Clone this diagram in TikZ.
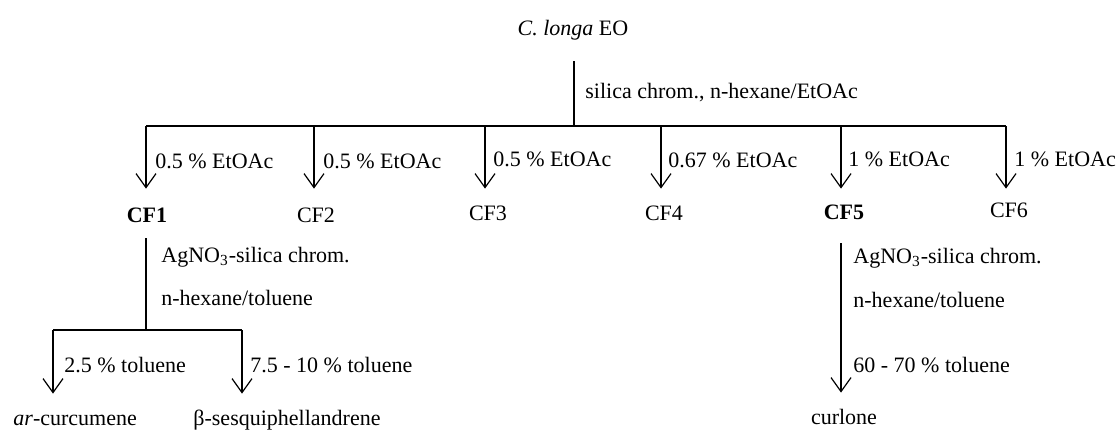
\documentclass[tikz,border=0pt]{standalone}
\usepackage{fontspec}
\setmainfont{Liberation Serif}
\usetikzlibrary{arrows.meta}

\begin{document}
\begin{tikzpicture}[x=0.5pt, y=-0.5pt,
    every node/.style={font=\fontsize{11}{13}\selectfont, inner sep=0pt, text height=8.5pt, text depth=2.5pt},
    frac/.style={anchor=base},
    lbl/.style={anchor=base west},
    line/.style={line width=0.6pt},
    arrow/.style={line width=0.6pt, -{Straight Barb[length=7pt,width=10pt]}, shorten >=7pt}
]
    \useasboundingbox (0,0) rectangle (1118,430);

    % Essential oil and first column
    \node[frac] (eo) at (573,35) {\textit{C. longa} EO};
    \coordinate (top) at (574,126);
    \draw[line, shorten <=10.5pt] (eo.south -| top) -- (top);
    \node[lbl] (col) at (585,98) {silica chrom., n-hexane/EtOAc};

    % Fractions
    \coordinate (bar1) at (146,126);
    \coordinate (bar2) at (314,126);
    \coordinate (bar3) at (485,126);
    \coordinate (bar4) at (661,126);
    \coordinate (bar5) at (841,126);
    \coordinate (bar6) at (1006,126);
    \draw[line] (bar1) -- (bar6);

    \node[frac] (cf1) at (147,222) {\textbf{CF1}};
    \node[frac] (cf2) at (316,222) {CF2};
    \node[frac] (cf3) at (488,220) {CF3};
    \node[frac] (cf4) at (664,220) {CF4};
    \node[frac] (cf5) at (844,219) {\textbf{CF5}};
    \node[frac] (cf6) at (1009,217) {CF6};

    \draw[arrow, shorten >=8pt] (bar1) -- (bar1 |- cf1.north);
    \draw[arrow, shorten >=8pt] (bar2) -- (bar2 |- cf2.north);
    \draw[arrow] (bar3) -- (bar3 |- cf3.north);
    \draw[arrow] (bar4) -- (bar4 |- cf4.north);
    \draw[arrow, shorten >=6.5pt] (bar5) -- (bar5 |- cf5.north);
    \draw[arrow, shorten >=5.5pt] (bar6) -- (bar6 |- cf6.north);

    \node[lbl] (e1) at (155,168) {0.5 \% EtOAc};
    \node[lbl] (e2) at (323,168) {0.5 \% EtOAc};
    \node[lbl] (e3) at (493,166) {0.5 \% EtOAc};
    \node[lbl] (e4) at (668,167) {0.67 \% EtOAc};
    \node[lbl] (e5) at (848,166) {1 \% EtOAc};
    \node[lbl] (e6) at (1014,166) {1 \% EtOAc};

    % CF1 separation
    \coordinate (sub1) at (146,330);
    \coordinate (sub1a) at (53,330);
    \coordinate (sub1b) at (242,330);
    \draw[line, shorten <=5.5pt] (cf1.south -| sub1) -- (sub1);
    \draw[line] (sub1a) -- (sub1b);
    \node[lbl] (ag1) at (161,262) {AgNO\textsubscript{3}-silica chrom.};
    \node[lbl] (hx1) at (161,305) {n-hexane/toluene};

    \node[lbl] (arc) at (13,425) {\textit{ar}-curcumene};
    \node[lbl] (bsq) at (193,425) {β-sesquiphellandrene};
    \draw[arrow] (sub1a) -- (sub1a |- arc.north);
    \draw[arrow] (sub1b) -- (sub1b |- bsq.north);
    \node[lbl] (t1) at (64,372) {2.5 \% toluene};
    \node[lbl] (t2) at (250,372) {7.5 - 10 \% toluene};

    % CF5 separation
    \node[frac] (curl) at (844,424) {curlone};
    \draw[arrow, shorten <=9.5pt] (cf5.south -| bar5) -- (bar5 |- curl.north);
    \node[lbl] (ag5) at (853,263) {AgNO\textsubscript{3}-silica chrom.};
    \node[lbl] (hx5) at (853,307) {n-hexane/toluene};
    \node[lbl] (t3) at (853,372) {60 - 70 \% toluene};
\end{tikzpicture}
\end{document}
